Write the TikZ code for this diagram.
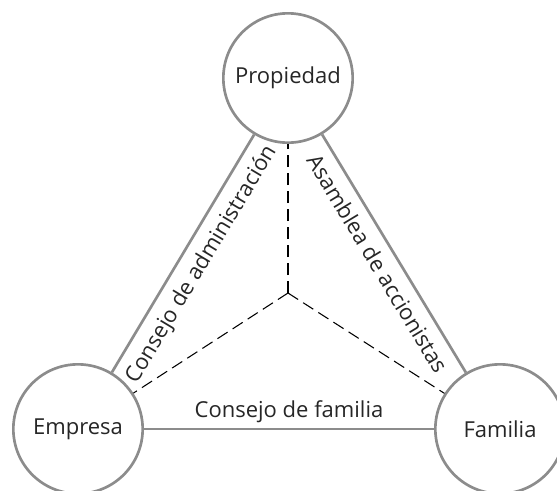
\documentclass[tikz,border=0pt]{standalone}
\usepackage{fontspec}
\setmainfont{Open Sans}
\tikzset{
  org/.style={circle,draw=black!45,line width=2pt,fill=white,minimum size=97pt,inner sep=0pt,font=\fontsize{16.5}{18}\selectfont,text=black!85},
  tie/.style={draw=black!45,line width=2pt},
  sub/.style={black,line width=0.8pt,dash pattern=on 9pt off 4.5pt},
  lab/.style={font=\fontsize{16.5}{18}\selectfont,text=black!85,inner sep=7pt}
}
\begin{document}
\begin{tikzpicture}[x=0.75pt,y=-0.75pt]
      \clip (0,0) rectangle (557,490);
      \coordinate (mid) at (288,293);
      \begin{scope}[sub]
        \draw (mid) -- (288,144);
        \draw (mid) -- (78,429);
        \draw (mid) -- (500,429);
      \end{scope}
      \draw
        (288,78) node[org] (prop){Propiedad}
        (78,429) node[org] (emp){Empresa}
        (500,429) node[org] (fam){Familia};
      \begin{scope}[tie]
        \draw (emp) to node[lab,sloped,below]{Consejo de administración} (prop);
        \draw (prop) to node[lab,sloped,below]{Asamblea de accionistas} (fam);
        \draw (emp) to node[lab,above,inner sep=4pt]{Consejo de familia} (fam);
      \end{scope}
    \end{tikzpicture}
\end{document}
